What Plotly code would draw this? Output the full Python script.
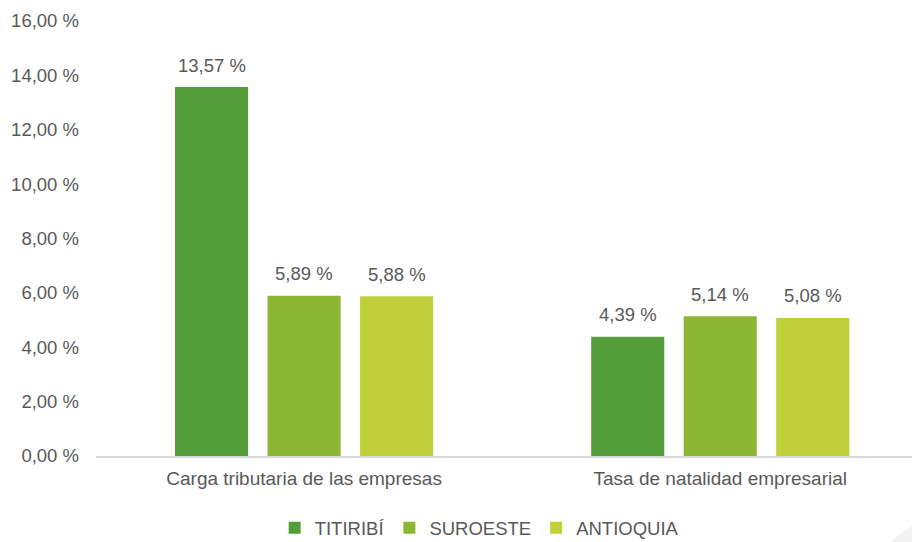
import plotly.graph_objects as go

categorias = ['Carga tributaria de las empresas', 'Tasa de natalidad empresarial']
titiribi = [13.57, 4.39]
suroeste = [5.89, 5.14]
antioquia = [5.88, 5.08]

series = [
    ('TITIRIBÍ', titiribi, '#549e39'),
    ('SUROESTE', suroeste, '#8ab833'),
    ('ANTIOQUIA', antioquia, '#c0cf3a'),
]

gris = '#595959'
fuente = 'Liberation Sans, Arial, sans-serif'

fig = go.Figure()
etiquetas = []
for i, (nombre, valores, color) in enumerate(series):
    fig.add_trace(go.Bar(
        x=categorias,
        y=valores,
        name=nombre,
        marker=dict(color=color, line=dict(width=0)),
        hoverinfo='y+name',
    ))
    # etiquetas de datos por encima de cada barra
    for cat, v in zip(categorias, valores):
        etiquetas.append(dict(
            x=cat, y=v, xref='x', yref='y',
            text=f'{v:.2f}'.replace('.', ',') + ' %',
            showarrow=False,
            yanchor='middle',
            yshift=22,
            xshift=(i - 1) * 92.5,
            font=dict(family=fuente, size=18.5, color=gris),
        ))

fig.update_layout(
    width=912,
    height=534,
    separators=',.',
    barmode='group',
    bargap=0.333,
    bargroupgap=0.21,
    plot_bgcolor='white',
    paper_bgcolor='white',
    font=dict(family=fuente, size=18.5, color=gris),
    margin=dict(l=88, r=0, t=13, b=86, autoexpand=False),
    xaxis=dict(
        range=[-0.5, 1.48],
        showline=True,
        linecolor='#d9d9d9',
        linewidth=2,
        showgrid=False,
        ticks='',
        ticklabelstandoff=4,
        tickfont=dict(size=19),
    ),
    yaxis=dict(
        range=[0, 16],
        dtick=2,
        tickformat='.2f',
        ticksuffix=' %',
        showgrid=False,
        zeroline=False,
        showline=False,
        ticks='',
        ticklabelstandoff=16,
    ),
    legend=dict(
        orientation='h',
        x=0.465,
        xanchor='center',
        y=-0.166,
        yanchor='middle',
        font=dict(size=18.5),
        itemwidth=30,
    ),
    annotations=etiquetas,
    shapes=[dict(
        type='path',
        xref='paper', yref='paper',
        path='M 0.9636 -0.1977 L 1 -0.147 L 1 -0.1977 Z',
        fillcolor='#f2f2f2',
        line=dict(width=0),
        layer='below',
    )],
)

fig.write_html('out.html')
